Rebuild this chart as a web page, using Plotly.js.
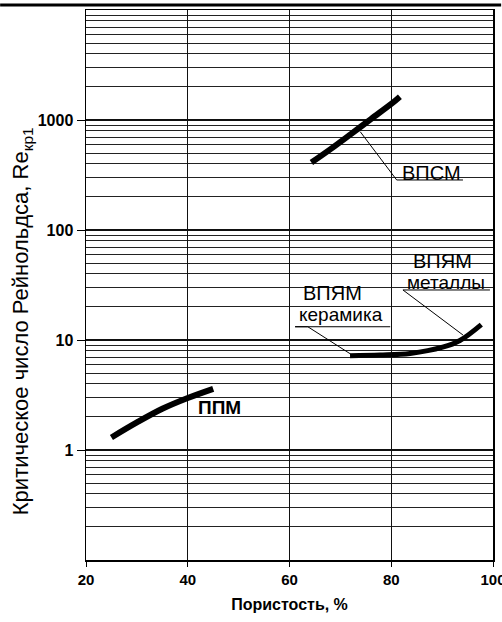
<!DOCTYPE html>
<html>
<head>
<meta charset="utf-8">
<script src="https://cdn.plot.ly/plotly-3.0.1.min.js"></script>
<style>html,body{margin:0;padding:0;background:#fff;}#chart{width:502px;height:622px;}</style>
</head>
<body>
<div id="chart"></div>
<script>
// Data
const ppmX = [25, 30, 35, 40, 45];
const ppmY = [1.3, 1.78, 2.37, 2.97, 3.6];

const vpsmX = [64.3, 68, 72, 76, 80, 81.7];
const vpsmY = [410, 540, 740, 1020, 1400, 1630];

const vpyamX = [71.9, 77.8, 83.7, 90.1, 93.5, 97.7];
const vpyamY = [7.2, 7.3, 7.55, 8.6, 9.9, 13.8];

const xTickVals = [20, 40, 60, 80, 100];
const yTickVals = [1, 10, 100, 1000];
const yTickText = ["1", "10", "100", "1000"];

const xTitle = 'Пористость, %';
const yTitle = 'Критическое число Рейнольдса, Re<sub>кр1</sub>';

// Labels and their leader lines (data coordinates)
const labelText = ["ВПСМ", "ППМ", "ВПЯМ", "керамика", "ВПЯМ", "металлы"];
const labelX = [88.0, 46.3, 68.4, 70.2, 90.0, 90.8];
const labelY = [330, 2.46, 26.5, 17.2, 52, 33];
const labelSize = [20, 19, 20, 19, 20, 19];
const labelBold = [false, true, false, false, false, false];

const leaderX = [[73.9, 81.07, 94.1], [72.0, 63.6, 61.1, 79.8], [94.1, 82.3, 99.4]];
const leaderY = [[783, 285, 285], [7.46, 13.2, 13.2, 13.2], [11.1, 28.5, 28.5]];

const FONT = 'Liberation Sans, Arial, sans-serif';
const traces = [
  {x: ppmX, y: ppmY, mode: 'lines', line: {color: '#000', width: 6, shape: 'spline'}, hoverinfo: 'skip'},
  {x: vpsmX, y: vpsmY, mode: 'lines', line: {color: '#000', width: 6, shape: 'spline'}, hoverinfo: 'skip'},
  {x: vpyamX, y: vpyamY, mode: 'lines', line: {color: '#000', width: 5, shape: 'spline'}, hoverinfo: 'skip'}
];
leaderX.forEach((lx, i) => {
  traces.push({x: lx, y: leaderY[i], mode: 'lines', line: {color: '#000', width: 1}, hoverinfo: 'skip'});
});

const annotations = labelText.map((t, i) => ({
  x: labelX[i], y: Math.log10(labelY[i]), xref: 'x', yref: 'y',
  text: labelBold[i] ? '<b>' + t + '</b>' : t,
  showarrow: false,
  font: {family: FONT, size: labelSize[i], color: '#000'}
}));
// y-axis title as a rotated annotation (placed like the reference)
annotations.push({
  x: -0.157, y: 0.078, xref: 'paper', yref: 'paper', textangle: -90,
  text: yTitle, showarrow: false, xanchor: 'center', yanchor: 'bottom',
  font: {family: FONT, size: 22, color: '#000'}
});

const layout = {
  width: 502, height: 622,
  margin: {l: 86, r: 9, t: 10, b: 62},
  paper_bgcolor: '#fff', plot_bgcolor: '#fff',
  showlegend: false,
  font: {family: FONT, color: '#000'},
  xaxis: {
    range: [20, 100], tickvals: xTickVals, ticktext: xTickVals.map(String),
    ticklabeloverflow: 'allow',
    showgrid: true, gridcolor: '#111', gridwidth: 1.2,
    showline: true, linecolor: '#000', linewidth: 1.5, mirror: true,
    ticks: 'outside', ticklen: 5, tickcolor: '#000',
    tickfont: {size: 15, family: FONT, weight: 'bold'},
    zeroline: false,
    title: {text: xTitle, font: {size: 16, weight: 'bold'}, standoff: 12}
  },
  yaxis: {
    type: 'log', range: [-1, 4],
    tickvals: yTickVals, ticktext: yTickText,
    showgrid: true, gridcolor: '#111', gridwidth: 1.4,
    minor: {dtick: 'D1', showgrid: true, gridcolor: '#222', gridwidth: 1, ticks: ''},
    showline: true, linecolor: '#000', linewidth: 1.5, mirror: true,
    ticks: 'outside', ticklen: 8, tickcolor: '#000',
    tickfont: {size: 16, family: FONT, weight: 'bold'},
    zeroline: false
  },
  annotations: annotations,
  shapes: [
    {type: 'line', xref: 'paper', yref: 'paper', x0: -0.211, x1: 1.02, y0: 1.009, y1: 1.009,
     line: {color: '#000', width: 3}}
  ]
};

Plotly.newPlot('chart', traces, layout, {displayModeBar: false, staticPlot: true});
</script>
</body>
</html>
